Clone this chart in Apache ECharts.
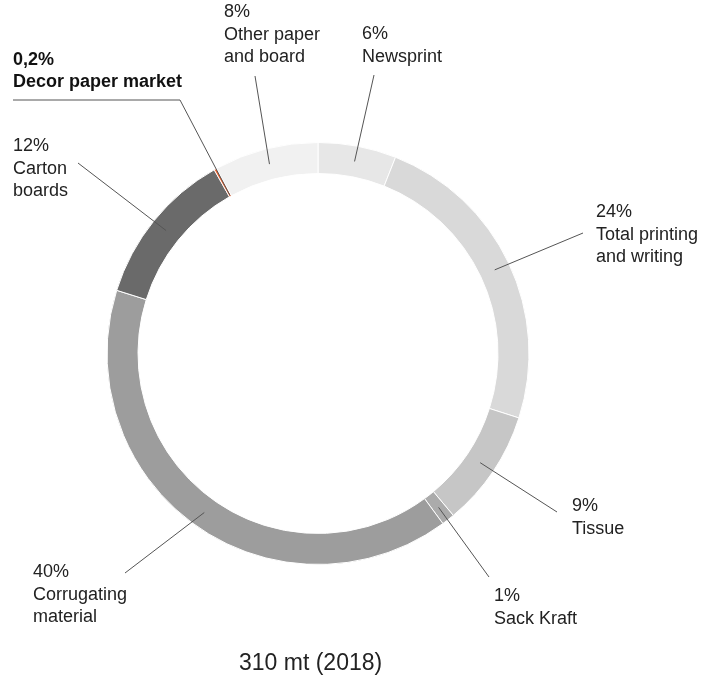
<!DOCTYPE html>
<html>
<head>
<meta charset="utf-8">
<script src="https://cdn.jsdelivr.net/npm/echarts@6/dist/echarts.min.js"></script>
<style>
  html, body { margin: 0; padding: 0; background: #fff; }
  #chart { width: 705px; height: 681px; }
</style>
</head>
<body>
<div id="chart"></div>
<script>
// data, clockwise from 12 o'clock
const names = ['Newsprint', 'Total printing\nand writing', 'Tissue', 'Sack Kraft', 'Corrugating\nmaterial', 'Carton\nboards', 'Decor paper market', 'Other paper\nand board']
const values = [6, 24, 9, 1, 40, 12, 0.2, 8]
const pctLabels = ['6%', '24%', '9%', '1%', '40%', '12%', '0,2%', '8%']
const colors = ['#e7e7e7', '#d9d9d9', '#c6c6c6', '#ababab', '#9d9d9d', '#6a6a6a', '#f0602a', '#f1f1f1']
const totalText = '310 mt (2018)'

// label boxes (left, top) and where each leader line ends
const labelPos = [
  [362, 23], [596, 201], [572, 495], [494, 585], [33, 561], [13, 135], [13, 49], [224, 1]
]
const lineEnd = [
  [374, 75], [583, 233], [557, 512], [489, 577], [125, 573], [78, 163], [180, 100], [255, 76]
]

const cx = 318
const cy = 353.5
const r0 = 180
const r1 = 211

const total = values.reduce((a, b) => a + b, 0)
// mid angle of each slice, degrees clockwise from top
const midAngles = []
let acc = 0
values.forEach(v => {
  midAngles.push((acc + v / 2) / total * 360)
  acc += v
})

function ringPoint (i, r) {
  const a = midAngles[i] * Math.PI / 180
  return [cx + r * Math.sin(a), cy - r * Math.cos(a)]
}

const chart = echarts.init(document.getElementById('chart'))
const option = {
  backgroundColor: '#fff',
  animation: false,
  graphic: [{
    type: 'text',
    left: 239,
    top: 652,
    style: {
      text: totalText,
      fontFamily: 'Liberation Sans',
      fontSize: 23,
      fill: '#222'
    }
  }],
  series: [
    {
      // the ring itself
      type: 'pie',
      z: 2,
      center: [cx, cy],
      radius: [r0, r1],
      startAngle: 90,
      clockwise: true,
      silent: true,
      itemStyle: {
        borderColor: '#fff',
        borderWidth: 1
      },
      label: { show: false },
      labelLine: { show: false },
      data: values.map((v, i) => ({ name: names[i], value: v, itemStyle: { color: colors[i] } }))
    },
    {
      // transparent copy on top, carries labels and leader lines
      type: 'pie',
      z: 3,
      center: [cx, cy],
      radius: [r0, r1],
      startAngle: 90,
      clockwise: true,
      silent: true,
      avoidLabelOverlap: false,
      itemStyle: { color: 'rgba(0,0,0,0)' },
      label: {
        show: true,
        position: 'outside',
        fontFamily: 'Liberation Sans',
        fontSize: 18,
        lineHeight: 22.5,
        color: '#222',
        align: 'left',
        formatter: p => pctLabels[p.dataIndex] + '\n' + p.name
      },
      labelLine: {
        show: true,
        length: 10,
        length2: 10,
        lineStyle: { color: '#555', width: 1 }
      },
      labelLayout: function (params) {
        const i = params.dataIndex
        const start = i === 6 ? ringPoint(i, r0 + 1) : ringPoint(i, (r0 + r1) / 2)
        const pts = i === 6
          ? [start, lineEnd[i], [13, 100]]
          : [start, lineEnd[i], lineEnd[i]]
        return {
          x: labelPos[i][0],
          y: labelPos[i][1],
          align: 'left',
          verticalAlign: 'top',
          labelLinePoints: pts
        }
      },
      data: values.map((v, i) => {
        const d = { name: names[i], value: v }
        if (i === 6) {
          d.label = { fontWeight: 'bold', color: '#111', lineHeight: 22 }
        }
        return d
      })
    }
  ]
}
chart.setOption(option)
</script>
</body>
</html>
